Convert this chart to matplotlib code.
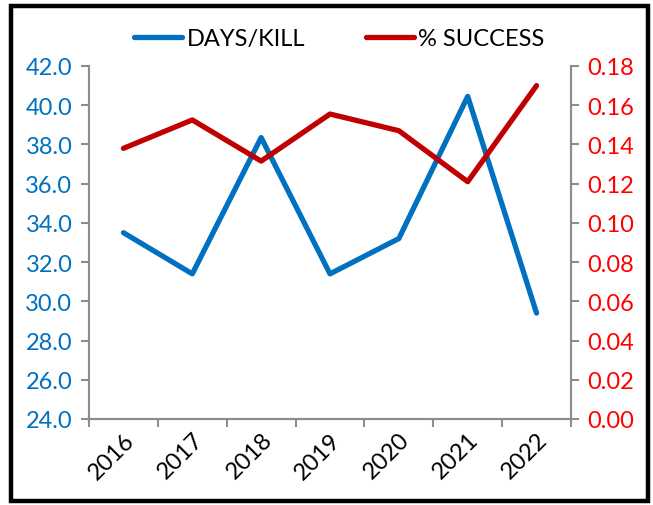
import numpy as np
import matplotlib.pyplot as plt
from matplotlib.patches import Rectangle

years = ['2016', '2017', '2018', '2019', '2020', '2021', '2022']
days_per_kill = [33.5, 31.4, 38.35, 31.4, 33.2, 40.45, 29.4]
pct_success = [0.138, 0.1525, 0.1315, 0.1555, 0.147, 0.121, 0.170]

plt.rcParams['font.family'] = ['Lato', 'DejaVu Sans']

blue = '#0070C0'
red = '#C00000'
grey = '#8C8C8C'

fig = plt.figure(figsize=(6.53, 5.06), dpi=100)
ax = fig.add_axes([0.1363, 0.17, 0.8744 - 0.1363, 0.8676 - 0.17])
ax2 = ax.twinx()

x = np.arange(len(years))
l1, = ax.plot(x, days_per_kill, color=blue, lw=3.8, solid_capstyle='round', label='DAYS/KILL')
l2, = ax2.plot(x, pct_success, color=red, lw=3.8, solid_capstyle='round', label='% SUCCESS')

ax.set_xlim(-0.5, len(years) - 0.5)
ax.set_ylim(24, 42)
ax2.set_ylim(0, 0.18)
ax.set_yticks(np.arange(24, 42.1, 2))
ax.set_yticklabels(['%.1f' % v for v in np.arange(24, 42.1, 2)])
ax2.set_yticks(np.arange(0, 0.181, 0.02))
ax2.set_yticklabels(['%.2f' % v for v in np.arange(0, 0.181, 0.02)])

# category ticks between bars, labels at centres
ax.set_xticks(np.arange(-0.5, len(years), 1.0))
ax.set_xticklabels([])
ax.set_xticks(x, minor=True)
ax.set_xticklabels(years, minor=True, rotation=45, ha='right', va='top',
                   rotation_mode='anchor', fontsize=17)
ax.tick_params(axis='x', which='minor', length=0, pad=7)
ax.tick_params(axis='x', which='major', length=6, width=1.5, color=grey, direction='out')

ax.tick_params(axis='y', length=6, width=1.5, color=grey, labelcolor=blue, labelsize=17, pad=6)
ax2.tick_params(axis='y', length=6, width=1.5, color=grey, labelcolor='#FF0000', labelsize=17, pad=6)

for a in (ax, ax2):
    a.spines['top'].set_visible(False)
    for s in ('left', 'right', 'bottom'):
        a.spines[s].set_color(grey)
        a.spines[s].set_linewidth(1.5)

fig.legend(handles=[l1, l2], loc='center', bbox_to_anchor=(0.52, 0.922), ncol=2,
           frameon=False, fontsize=17, handlelength=2.0, columnspacing=2.6, handletextpad=0.2)

fig.patches.append(Rectangle((0.0165, 0.008), 0.9755, 0.978, transform=fig.transFigure,
                             fill=False, edgecolor='black', linewidth=3.2))

fig.savefig('out.png', dpi=100)
